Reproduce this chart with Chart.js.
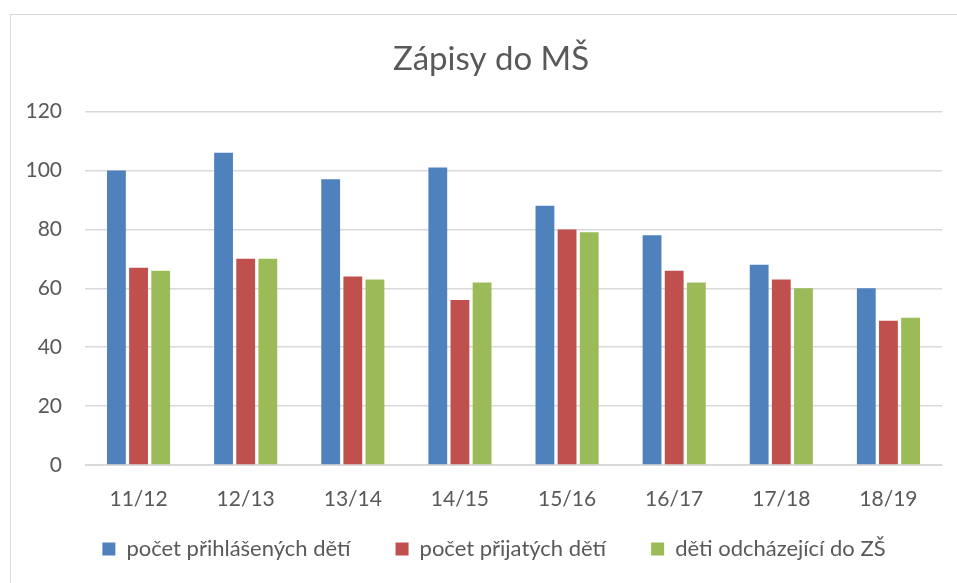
<!DOCTYPE html>
<html>
<head>
<meta charset="utf-8">
<script src="https://cdn.jsdelivr.net/npm/chart.js@4/dist/chart.umd.min.js"></script>
<style>
  html, body { margin: 0; padding: 0; background: #fff; }
  #frame {
    position: absolute; left: 10px; top: 14px; width: 960px; height: 600px;
    border-left: 1px solid #d9d9d9; border-top: 1px solid #d9d9d9;
  }
  #wrap { position: absolute; left: 0; top: 0; width: 957px; height: 583px; }
</style>
</head>
<body>
<div id="frame"></div>
<div id="wrap"><canvas id="chart"></canvas></div>
<script>
const years = ["11/12", "12/13", "13/14", "14/15", "15/16", "16/17", "17/18", "18/19"];
const prihlaseni = [100, 106, 97, 101, 88, 78, 68, 60];
const prijati = [67, 70, 64, 56, 80, 66, 63, 49];
const odchazejici = [66, 70, 63, 62, 79, 62, 60, 50];
const yTicks = [0, 20, 40, 60, 80, 100, 120];

const textColor = "#595959";
const fontFamily = "Lato, 'Open Sans', sans-serif";

// move legend and title a bit right (and legend up), like in the Excel original
const boxShift = {
  id: "boxShift",
  afterLayout(chart) {
    const lg = chart.legend;
    if (lg) {
      lg.top -= 22;
      lg.bottom -= 22;
      lg.left += 46;
    }
    const tb = chart.titleBlock;
    if (tb) {
      tb.left += 40;
    }
  },
};

const ctx = document.getElementById("chart");

new Chart(ctx, {
  type: "bar",
  data: {
    labels: years,
    datasets: [
      {
        label: "počet přihlášených dětí",
        data: prihlaseni,
        backgroundColor: "#4F81BD",
        borderColor: "#4F81BD",
      },
      {
        label: "počet přijatých dětí",
        data: prijati,
        backgroundColor: "#C0504D",
        borderColor: "#C0504D",
      },
      {
        label: "děti odcházející do ZŠ",
        data: odchazejici,
        backgroundColor: "#9BBB59",
        borderColor: "#9BBB59",
      },
    ],
  },
  options: {
    responsive: true,
    maintainAspectRatio: false,
    animation: false,
    categoryPercentage: 0.62,
    barPercentage: 0.85,
    layout: { padding: { left: 0, right: 15, top: 0, bottom: -9 } },
    scales: {
      x: {
        grid: { display: false, drawTicks: false },
        border: { color: "#d9d9d9" },
        ticks: { color: textColor, font: { family: fontFamily, size: 21 }, padding: 22 },
        afterFit: (scale) => { scale.height = 50; },
      },
      y: {
        min: 0,
        max: 120,
        afterBuildTicks: (scale) => { scale.ticks = yTicks.map((v) => ({ value: v })); },
        grid: { color: "#d9d9d9", lineWidth: 1.5, drawTicks: false },
        border: { display: false },
        ticks: { color: textColor, font: { family: fontFamily, size: 21 }, padding: 23 },
        afterFit: (scale) => { scale.width = 85; },
      },
    },
    plugins: {
      title: {
        display: true,
        text: "Zápisy do MŠ",
        color: textColor,
        font: { family: fontFamily, size: 33, weight: "normal" },
        padding: { top: 40, bottom: 32 },
      },
      legend: {
        display: true,
        position: "bottom",
        labels: {
          color: textColor,
          font: { family: fontFamily, size: 22 },
          boxWidth: 13,
          boxHeight: 13,
          padding: 45,
        },
      },
      tooltip: { enabled: false },
    },
  },
  plugins: [boxShift],
});
</script>
</body>
</html>
